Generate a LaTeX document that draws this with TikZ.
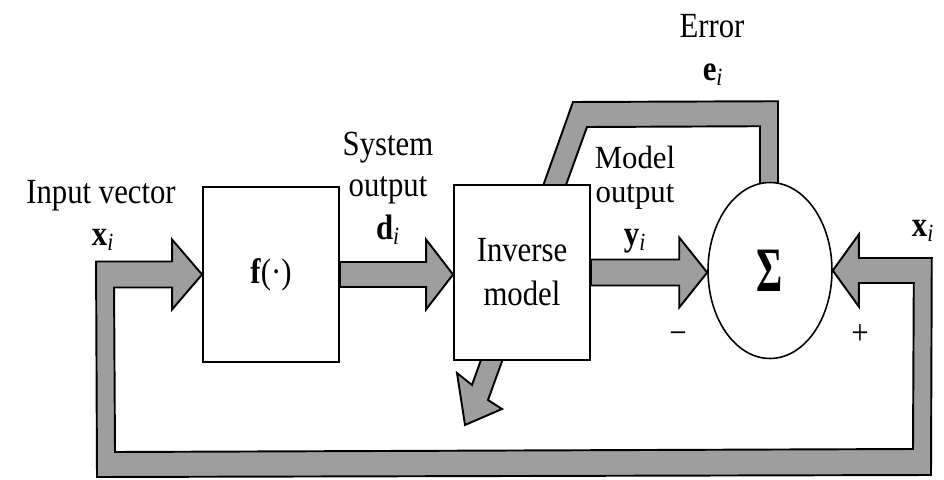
\documentclass[tikz,border=0pt]{standalone}
\usepackage{fontspec}
\setmainfont{Liberation Serif}
\usepackage{graphicx}
\usetikzlibrary{calc,shapes.geometric,backgrounds}
\newcommand\bvec[2]{\textbf{#1}\textsubscript{\textit{#2}}}
\newcommand\tallt[1]{\scalebox{1}[1.15]{#1}}
\begin{document}
\begin{tikzpicture}[x=0.02cm,y=-0.02cm,
  lbl/.style={anchor=base, inner sep=0pt, font=\fontsize{17.5}{20}\selectfont},
  blk/.style={draw, line width=1.1pt, fill=white, minimum width=2.72cm, minimum height=3.5cm, inner sep=0pt, align=center, font=\fontsize{17.5}{25}\selectfont},
  sumnode/.style={draw, ellipse, line width=0.9pt, fill=white, minimum width=2.48cm, minimum height=3.52cm, inner sep=0pt},
  fat/.style={draw=black, line width=1.1pt, fill=black!38, line join=miter}]
\useasboundingbox (0,0) rectangle (944,480);

% blocks
\node[blk] (f) at (271,274.5) {\tallt{\textbf{f}(\textperiodcentered)}};
\node[blk] (inv) at (522,272.5) {\tallt{Inverse}\\\tallt{model}};
\node[sumnode] (sum) at (770,270.5) {\scalebox{0.95}[1.5]{\fontsize{24}{24}\selectfont\textbf{Σ}}};

% fat arrows behind the blocks
\begin{scope}[on background layer]
% f -> inverse model
\path[fat] ($(f.east)+(0,-12.5)$) -- ($(f.east -| inv.west)+(-27,-12.5)$) -- ++(0,-22.5)
  -- (f.east -| inv.west) -- ($(f.east -| inv.west)+(-27,35)$) -- ++(0,-22.5)
  -- ($(f.east)+(0,12.5)$) -- cycle;
% inverse model -> sum
\path[fat] ($(inv.east)+(0,-13)$) -- ($(inv.east -| sum.west)+(-28,-13)$) -- ++(0,-22)
  -- (inv.east -| sum.west) -- ($(inv.east -| sum.west)+(-28,35)$) -- ++(0,-22)
  -- ($(inv.east)+(0,13)$) -- cycle;
% input loop: x_i to f and to sum
\coordinate (oBR) at (931,475);
\coordinate (oBL) at (97,477);
\coordinate (iBR) at (913,449);
\coordinate (iBL) at (115,452);
\path[fat] (sum.east) -- ++(26,-36) -- ++(0,23.5) -- ($(sum.east)+(99,-12.5)$)
  -- (oBR) -- (oBL) -- ($(f.west)+(-106,-13)$) -- ($(f.west)+(-30,-13)$) -- ++(0,-22)
  -- (f.west) -- ($(f.west)+(-30,35)$) -- ++(0,-22) -- ($(f.west)+(-88,13)$)
  -- (iBL) -- (iBR) -- ($(sum.east)+(81,12.5)$) -- ($(sum.east)+(26,12.5)$) -- ++(0,23.5) -- cycle;
% error e_i back through the inverse model
\coordinate (eOTL) at (573,102);
\coordinate (eITL) at (587,127);
\coordinate (eNR) at (488,400);
\coordinate (eBR) at (502,409);
\coordinate (eTip) at (465,425);
\coordinate (eBL) at (457,373);
\coordinate (eNL) at (472,385);
\path[fat] ($(sum.north)+(-10,20)$) -- ($(sum.north)+(-10,-55.5)$) -- (eITL) -- (eNR) -- (eBR)
  -- (eTip) -- (eBL) -- (eNL) -- (eOTL) -- ($(sum.north)+(8,-80.5)$) -- ($(sum.north)+(8,20)$) -- cycle;
\end{scope}

% labels
\node[lbl] (lin1) at (101,203) {\tallt{Input vector}};
\node[lbl] (lin2) at (103,245) {\tallt{\bvec{x}{i}}};
\node[lbl] (ls1) at (388,155) {\tallt{System}};
\node[lbl] (ls2) at (388,196) {\tallt{output}};
\node[lbl] (ls3) at (388,239) {\tallt{\bvec{d}{i}}};
\node[lbl] (le1) at (712,37) {\tallt{Error}};
\node[lbl] (le2) at (713,80) {\tallt{\bvec{e}{i}}};
\node[lbl] (lm1) at (635,168) {\scalebox{1}[1.05]{Model}};
\node[lbl] (lm2) at (635,202) {\scalebox{1}[1.05]{output}};
\node[lbl] (lm3) at (635,245) {\tallt{\bvec{y}{i}}};
\node[lbl] (lx) at (923,236) {\tallt{\bvec{x}{i}}};
\node[lbl] (lminus) at (678,344) {\tallt{−}};
\node[lbl] (lplus) at (860,344) {\tallt{+}};
\end{tikzpicture}
\end{document}
